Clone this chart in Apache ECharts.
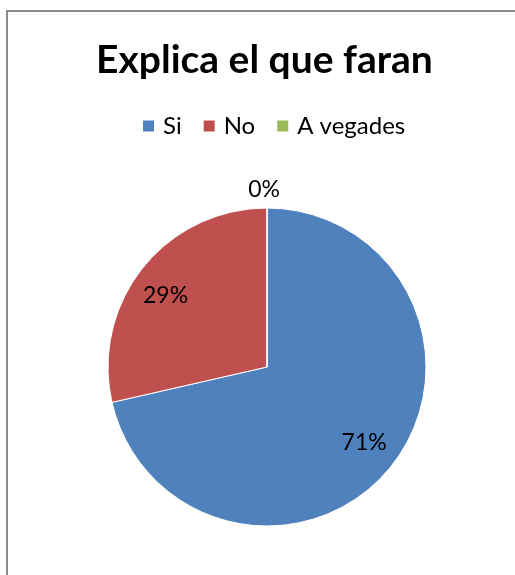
<!DOCTYPE html>
<html>
<head>
<meta charset="utf-8">
<script src="https://cdn.jsdelivr.net/npm/echarts@6/dist/echarts.min.js"></script>
<style>
  html, body { margin: 0; padding: 0; background: #fff; }
  #frame {
    position: absolute; left: 6px; top: 10px; width: 600px; height: 600px;
    border-left: 2px solid #8a8a8a; border-top: 2px solid #8a8a8a;
  }
  #chart { position: absolute; left: 0; top: 0; width: 515px; height: 575px; }
</style>
</head>
<body>
<div id="frame"></div>
<div id="chart"></div>
<script>
const categories = ['Si', 'No', 'A vegades']
const values = [5, 2, 0]
const colors = ['#4f81bd', '#c0504d', '#9bbb59']

// label placement per slice (Excel puts them near the rim, the zero one outside)
const labelLines = [
  { length: -38, length2: -25 },
  { length: -44, length2: -16 },
  { length: 18, length2: -18 }
]

const font = 'Lato, "Open Sans", sans-serif'
const chart = echarts.init(document.getElementById('chart'))

chart.setOption({
  animation: false,
  color: colors,
  title: {
    text: 'Explica el que faran',
    left: 96,
    top: 41,
    padding: 0,
    textStyle: { fontFamily: font, fontSize: 39, fontWeight: 'bold', color: '#000' }
  },
  legend: {
    top: 114,
    left: 141,
    padding: 0,
    icon: 'rect',
    itemWidth: 13,
    itemHeight: 13,
    itemGap: 20,
    textStyle: { fontFamily: font, fontSize: 24, color: '#000', padding: [0, 0, 0, 3] },
    data: categories
  },
  series: [{
    type: 'pie',
    center: [267, 367],
    radius: 159,
    startAngle: 90,
    clockwise: true,
    avoidLabelOverlap: false,
    minShowLabelAngle: -1,
    itemStyle: { borderColor: '#fff', borderWidth: 1 },
    emphasis: { disabled: true },
    label: {
      position: 'outside',
      fontFamily: font,
      fontSize: 23,
      color: '#000',
      formatter: p => Math.round(p.percent) + '%'
    },
    labelLine: { show: false },
    data: categories.map((name, i) => ({
      name: name,
      value: values[i],
      labelLine: { show: false, length: labelLines[i].length, length2: labelLines[i].length2 }
    }))
  }]
})
</script>
</body>
</html>
